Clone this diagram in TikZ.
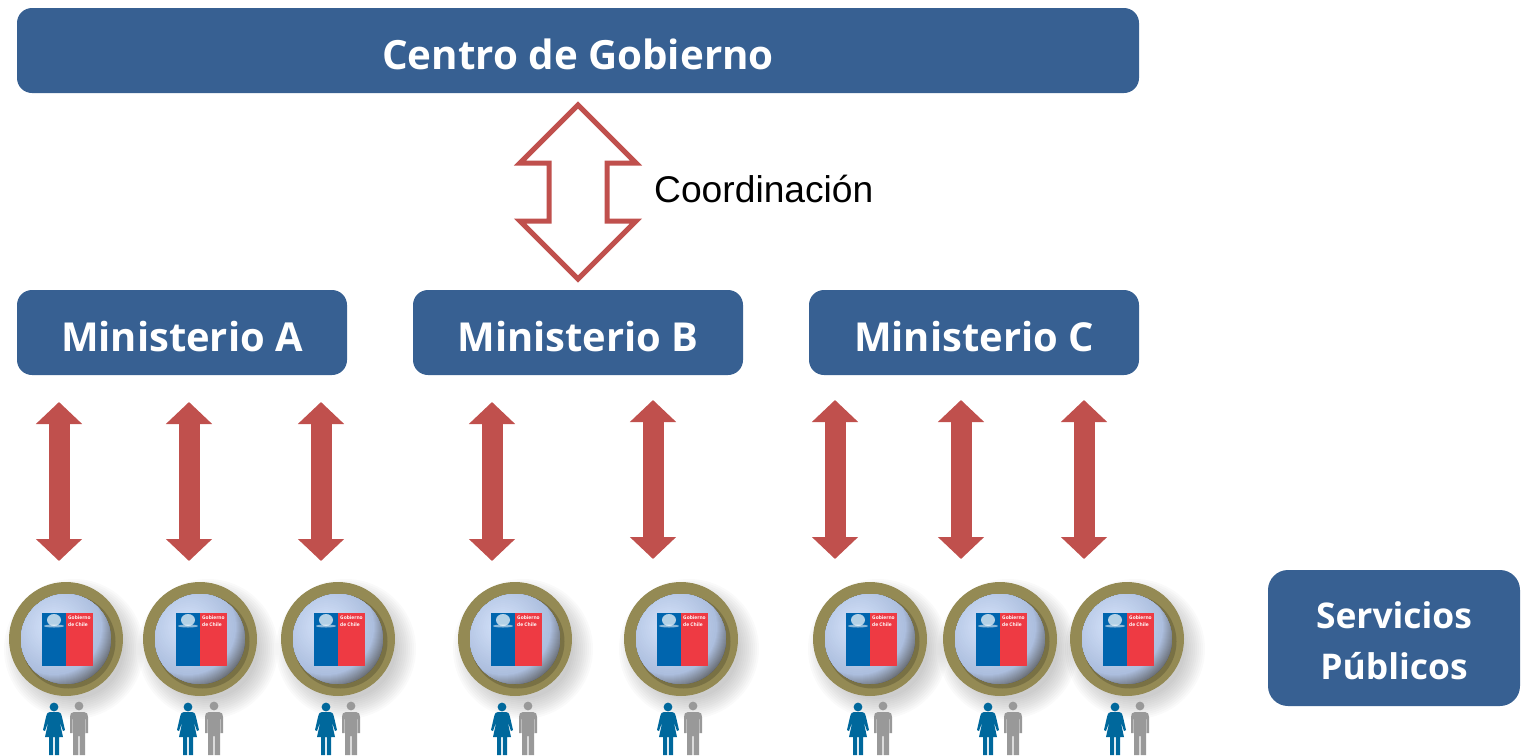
\documentclass[tikz,border=0pt]{standalone}
\usepackage{fontspec}
\setmainfont{Open Sans}
\newfontfamily\arialf{Liberation Sans}
\usetikzlibrary{arrows.meta}
\definecolor{boxblue}{HTML}{376092}
\definecolor{arrred}{HTML}{C0504D}
\definecolor{ringc}{HTML}{948A54}
\definecolor{flagb}{HTML}{0065AE}
\definecolor{flagr}{HTML}{EE3A43}
\definecolor{womanc}{HTML}{00689C}
\definecolor{manc}{HTML}{999999}
\definecolor{dska}{HTML}{D6E4FB}
\definecolor{dskc}{HTML}{ACBEDE}
\definecolor{dske}{HTML}{5C5E60}
\tikzset{
  redarrow/.style={draw=arrred,line width=21pt,{Triangle[length=22pt,width=45pt]}-{Triangle[length=22pt,width=45pt]}},
  ringnode/.style={circle,fill=ringc,minimum size=114pt,inner sep=0pt},
  disknode/.style={circle,minimum size=90pt,inner sep=0pt},
  flagtxt/.style={text=white,font=\bfseries\fontsize{4.9}{6.2}\selectfont,inner sep=0pt,align=left,anchor=north west},
  outlinearrow/.style={draw=arrred,line width=5pt,miter limit=10,line join=miter,fill=white},
  boxfont/.style={text=white,inner sep=0pt,font=\bfseries\fontsize{40.3}{48}\selectfont},
  minfont/.style={text=white,inner sep=0pt,font=\bfseries\fontsize{39.9}{48}\selectfont}
}
\newcommand{\servicio}[4]{%
  \begin{scope}[shift={(#1,639)}]
    \foreach \r in {50,52,...,70}{\fill[black,opacity=0.018] (8,10) circle[radius=\r];}
  \end{scope}
  \node[ringnode] (ring#4) at (#1,639) {};
  \begin{scope}[shift={(#1,639)}]
    \fill[black,opacity=.18] (2.5,2.5) circle[radius=47];
    \begin{scope}
      \clip (0,0) circle[radius=45];
      \fill[dske] (-45,-45) rectangle (45,45);
      \foreach \r in {66,65,...,48}{%
        \pgfmathsetmacro{\p}{(66-\r)/18*100}
        \fill[dskc!\p!dske] (-12,-12) circle[radius=\r];}
      \foreach \r in {46,44,...,2}{%
        \pgfmathsetmacro{\p}{(48-\r)/46*100}
        \fill[dska!\p!dskc] (-12,-12) circle[radius=\r];}
    \end{scope}
  \end{scope}
  \node[disknode] (disk#4) at (#1,639) {};
  \begin{scope}[shift={(#1,639)}]
    \fill[flagb] (-24,-26) rectangle (0,27);
    \fill[flagr] (0,-26) rectangle (27,27);
    \fill[white,opacity=.7] (-12,-19) ellipse[x radius=7,y radius=6];
    \fill[white,opacity=.55] (-12,-13) ellipse[x radius=10,y radius=1.5];
    \node[flagtxt] (flagtext#4) at (2,-23) {Gobierno\\de Chile};
  \end{scope}
  \begin{scope}[shift={(#2,707)}]
    \fill[womanc] (0,0) circle[radius=4.4];
    \fill[womanc] (-4,5) -- (4,5) .. controls (6,5) and (7,6) .. (8,10) -- (11,23) -- (9,24)
      -- (5.5,14) -- (9,30) -- (5,30) -- (5,48) -- (0.8,48) -- (0.8,30) -- (-0.8,30) -- (-0.8,48) -- (-5,48) -- (-5,30) -- (-9,30)
      -- (-5.5,14) -- (-9,24) -- (-11,23) -- (-8,10) .. controls (-7,6) and (-6,5) .. (-4,5) -- cycle;
  \end{scope}
  \begin{scope}[shift={(#3,706)}]
    \fill[manc] (0,0) circle[radius=4.4];
    \fill[manc] (-5,6) -- (5,6) .. controls (8,6) and (9,8) .. (9,11) -- (9,27) -- (6.5,27) -- (6.5,13) -- (6,13)
      -- (6,49) -- (0.7,49) -- (0.7,30) -- (-0.7,30) -- (-0.7,49) -- (-6,49) -- (-6,13) -- (-6.5,13) -- (-6.5,27) -- (-9,27) -- (-9,11)
      .. controls (-9,8) and (-8,6) .. (-5,6) -- cycle;
  \end{scope}
}
\begin{document}
\begin{tikzpicture}[x=1pt,y=-1pt]
\useasboundingbox (0,0) rectangle (1526,755);
\fill[boxblue,rounded corners=15pt] (17,8) rectangle (1139,93);
\node[boxfont] (cg) at (578,54.5) {Centro de Gobierno};
\fill[boxblue,rounded corners=15pt] (17,290) rectangle (347,375);
\node[minfont] (ma) at (182,336.5) {Ministerio A};
\fill[boxblue,rounded corners=15pt] (413,290) rectangle (743,375);
\node[minfont] (mb) at (578,336.5) {Ministerio B};
\fill[boxblue,rounded corners=15pt] (809,290) rectangle (1139,375);
\node[minfont] (mc) at (974,336.5) {Ministerio C};
\fill[boxblue,rounded corners=20pt] (1268,570) rectangle (1520,706);
\node[text=white,inner sep=0pt,align=center,font=\bfseries\fontsize{35.4}{51}\selectfont] (sp) at (1394,641) {Servicios\\Públicos};
\node[inner sep=0pt,anchor=west,font=\arialf\fontsize{37.2}{40}\selectfont] (coord) at (654,189) {Coordinación};
\coordinate (ot) at (578,105);
\coordinate (ob) at (578,279);
\draw[outlinearrow] (ot) -- (520,163) -- (549,163) -- (549,221) -- (520,221) -- (ob) -- (636,221) -- (607,221) -- (607,163) -- (636,163) -- cycle;
\foreach \n/\x/\a/\b in {a1/59/402/561,a2/189/402/561,a3/321/402/561,b1/492/402/561,b2/653/400/559,c1/835/400/559,c2/961/400/559,c3/1084/400/559}{
  \coordinate (top\n) at (\x,\a);
  \coordinate (bot\n) at (\x,\b);
  \draw[redarrow] (top\n) -- (bot\n);
}
\servicio{66}{54}{79}{a}
\servicio{200}{188}{214}{b}
\servicio{338}{326}{351}{c}
\servicio{515}{502}{528}{d}
\servicio{681}{668}{693}{e}
\servicio{870}{858}{883}{f}
\servicio{1000}{988}{1013}{g}
\servicio{1127}{1115}{1140}{h}
\end{tikzpicture}
\end{document}
